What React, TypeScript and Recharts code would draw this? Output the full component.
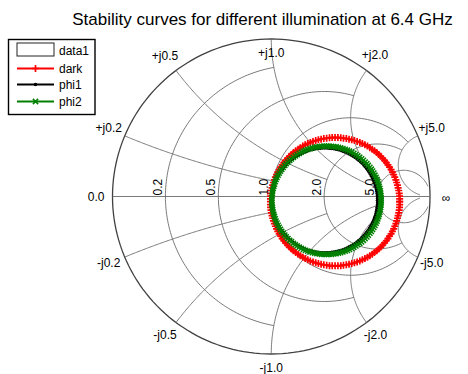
import React from "react";
import { Line, LineChart, XAxis, YAxis } from "recharts";

type Pt = { x: number; y: number };

// Smith chart grid: circle/arc values and how far each one is drawn
const gridValues = [0.2, 0.5, 1.0, 2.0, 5.0];
const gridLimits = [1.0, 2.0, 5.0, 5.0, 30];
const resistanceLabels = ["0.2", "0.5", "1.0", "2.0", "5.0"];
const reactanceLabels = ["+j0.2", "+j0.5", "+j1.0", "+j2.0", "+j5.0", "-j0.2", "-j0.5", "-j1.0", "-j2.0", "-j5.0"];

const seriesNames = ["dark", "phi1", "phi2"];

const dark: [number, number][] = [
  [0.809, -0.033], [0.809, -0.015], [0.808, 0.003], [0.806, 0.02], [0.803, 0.038], [0.799, 0.055], [0.795, 0.072], [0.79, 0.089], [0.785, 0.106], [0.778, 0.123], [0.771, 0.139], [0.763, 0.155], [0.755, 0.171], [0.745, 0.186], [0.735, 0.201], [0.725, 0.215], [0.714, 0.229], [0.702, 0.242], [0.69, 0.255], [0.677, 0.267], [0.664, 0.279], [0.65, 0.29], [0.636, 0.3], [0.621, 0.31], [0.606, 0.32], [0.59, 0.328], [0.574, 0.336], [0.558, 0.343], [0.541, 0.35], [0.524, 0.355], [0.507, 0.36], [0.49, 0.364], [0.473, 0.368], [0.455, 0.37], [0.438, 0.373], [0.42, 0.374], [0.402, 0.374],
  [0.384, 0.374], [0.367, 0.373], [0.349, 0.37], [0.331, 0.368], [0.314, 0.364], [0.297, 0.36], [0.28, 0.355], [0.263, 0.35], [0.246, 0.343], [0.23, 0.336], [0.214, 0.328], [0.199, 0.32], [0.183, 0.31], [0.169, 0.3], [0.154, 0.29], [0.14, 0.279], [0.127, 0.267], [0.114, 0.255], [0.102, 0.242], [0.09, 0.229], [0.079, 0.215], [0.069, 0.201], [0.059, 0.186], [0.05, 0.171], [0.041, 0.155], [0.033, 0.139], [0.026, 0.123], [0.02, 0.106], [0.014, 0.089], [0.009, 0.072], [0.005, 0.055], [0.001, 0.038], [-0.002, 0.02], [-0.004, 0.003], [-0.005, -0.015], [-0.005, -0.033],
  [-0.005, -0.051], [-0.004, -0.069], [-0.002, -0.086], [0.001, -0.104], [0.005, -0.121], [0.009, -0.138], [0.014, -0.155], [0.02, -0.172], [0.026, -0.189], [0.033, -0.205], [0.041, -0.221], [0.05, -0.237], [0.059, -0.252], [0.069, -0.267], [0.079, -0.281], [0.09, -0.295], [0.102, -0.308], [0.114, -0.321], [0.127, -0.333], [0.14, -0.345], [0.154, -0.356], [0.169, -0.366], [0.183, -0.376], [0.199, -0.386], [0.214, -0.394], [0.23, -0.402], [0.246, -0.409], [0.263, -0.416], [0.28, -0.421], [0.297, -0.426], [0.314, -0.43], [0.331, -0.434], [0.349, -0.436], [0.367, -0.439], [0.384, -0.44], [0.402, -0.44],
  [0.42, -0.44], [0.438, -0.439], [0.455, -0.436], [0.473, -0.434], [0.49, -0.43], [0.507, -0.426], [0.524, -0.421], [0.541, -0.416], [0.558, -0.409], [0.574, -0.402], [0.59, -0.394], [0.606, -0.386], [0.621, -0.376], [0.636, -0.366], [0.65, -0.356], [0.664, -0.345], [0.677, -0.333], [0.69, -0.321], [0.702, -0.308], [0.714, -0.295], [0.725, -0.281], [0.735, -0.267], [0.745, -0.252], [0.755, -0.237], [0.763, -0.221], [0.771, -0.205], [0.778, -0.189], [0.785, -0.172], [0.79, -0.155], [0.795, -0.138], [0.799, -0.121], [0.803, -0.104], [0.806, -0.086], [0.808, -0.069], [0.809, -0.051], [0.809, -0.033],
];

const phi1: [number, number][] = [
  [0.67, -0.025], [0.67, -0.011], [0.669, 0.004], [0.667, 0.019], [0.665, 0.033], [0.662, 0.047], [0.659, 0.061], [0.655, 0.075], [0.65, 0.089], [0.645, 0.102], [0.639, 0.116], [0.632, 0.129], [0.625, 0.142], [0.618, 0.154], [0.61, 0.166], [0.601, 0.178], [0.592, 0.189], [0.583, 0.2], [0.573, 0.211], [0.562, 0.221], [0.551, 0.23], [0.54, 0.239], [0.528, 0.248], [0.516, 0.256], [0.504, 0.263], [0.491, 0.27], [0.478, 0.277], [0.464, 0.283], [0.451, 0.288], [0.437, 0.293], [0.423, 0.297], [0.409, 0.3], [0.395, 0.303], [0.381, 0.305], [0.366, 0.307], [0.352, 0.308], [0.337, 0.308],
  [0.322, 0.308], [0.308, 0.307], [0.294, 0.305], [0.279, 0.303], [0.265, 0.3], [0.251, 0.297], [0.237, 0.293], [0.223, 0.288], [0.21, 0.283], [0.196, 0.277], [0.183, 0.27], [0.17, 0.263], [0.158, 0.256], [0.146, 0.248], [0.134, 0.239], [0.123, 0.23], [0.112, 0.221], [0.101, 0.211], [0.092, 0.2], [0.082, 0.189], [0.073, 0.178], [0.064, 0.166], [0.056, 0.154], [0.049, 0.142], [0.042, 0.129], [0.035, 0.116], [0.029, 0.102], [0.024, 0.089], [0.019, 0.075], [0.015, 0.061], [0.012, 0.047], [0.009, 0.033], [0.007, 0.019], [0.005, 0.004], [0.004, -0.011], [0.004, -0.025],
  [0.004, -0.04], [0.005, -0.054], [0.007, -0.069], [0.009, -0.083], [0.012, -0.097], [0.015, -0.111], [0.019, -0.125], [0.024, -0.139], [0.029, -0.152], [0.035, -0.166], [0.042, -0.179], [0.049, -0.191], [0.056, -0.204], [0.064, -0.216], [0.073, -0.228], [0.082, -0.239], [0.092, -0.25], [0.101, -0.261], [0.112, -0.271], [0.123, -0.28], [0.134, -0.289], [0.146, -0.298], [0.158, -0.306], [0.17, -0.313], [0.183, -0.32], [0.196, -0.327], [0.21, -0.333], [0.223, -0.338], [0.237, -0.343], [0.251, -0.347], [0.265, -0.35], [0.279, -0.353], [0.294, -0.355], [0.308, -0.357], [0.322, -0.358], [0.337, -0.358],
  [0.352, -0.358], [0.366, -0.357], [0.381, -0.355], [0.395, -0.353], [0.409, -0.35], [0.423, -0.347], [0.437, -0.343], [0.451, -0.338], [0.464, -0.333], [0.478, -0.327], [0.491, -0.32], [0.504, -0.313], [0.516, -0.306], [0.528, -0.298], [0.54, -0.289], [0.551, -0.28], [0.562, -0.271], [0.573, -0.261], [0.583, -0.25], [0.592, -0.239], [0.601, -0.228], [0.61, -0.216], [0.618, -0.204], [0.625, -0.191], [0.632, -0.179], [0.639, -0.166], [0.645, -0.152], [0.65, -0.139], [0.655, -0.125], [0.659, -0.111], [0.662, -0.097], [0.665, -0.083], [0.667, -0.069], [0.669, -0.054], [0.67, -0.04], [0.67, -0.025],
];

const phi2: [number, number][] = [
  [0.692, -0.024], [0.692, -0.009], [0.691, 0.006], [0.689, 0.021], [0.687, 0.036], [0.684, 0.051], [0.68, 0.065], [0.676, 0.079], [0.671, 0.094], [0.666, 0.108], [0.66, 0.121], [0.653, 0.135], [0.646, 0.148], [0.638, 0.161], [0.63, 0.173], [0.621, 0.185], [0.611, 0.197], [0.602, 0.208], [0.591, 0.219], [0.58, 0.23], [0.569, 0.239], [0.557, 0.249], [0.545, 0.258], [0.533, 0.266], [0.52, 0.274], [0.507, 0.281], [0.493, 0.288], [0.48, 0.294], [0.466, 0.299], [0.451, 0.304], [0.437, 0.308], [0.423, 0.312], [0.408, 0.315], [0.393, 0.317], [0.378, 0.319], [0.363, 0.32], [0.348, 0.32],
  [0.333, 0.32], [0.318, 0.319], [0.303, 0.317], [0.288, 0.315], [0.274, 0.312], [0.259, 0.308], [0.245, 0.304], [0.23, 0.299], [0.216, 0.294], [0.203, 0.288], [0.189, 0.281], [0.176, 0.274], [0.163, 0.266], [0.151, 0.258], [0.139, 0.249], [0.127, 0.239], [0.116, 0.23], [0.105, 0.219], [0.094, 0.208], [0.085, 0.197], [0.075, 0.185], [0.066, 0.173], [0.058, 0.161], [0.05, 0.148], [0.043, 0.135], [0.036, 0.121], [0.03, 0.108], [0.025, 0.094], [0.02, 0.079], [0.016, 0.065], [0.012, 0.051], [0.009, 0.036], [0.007, 0.021], [0.005, 0.006], [0.004, -0.009], [0.004, -0.024],
  [0.004, -0.039], [0.005, -0.054], [0.007, -0.069], [0.009, -0.084], [0.012, -0.099], [0.016, -0.113], [0.02, -0.127], [0.025, -0.142], [0.03, -0.156], [0.036, -0.169], [0.043, -0.183], [0.05, -0.196], [0.058, -0.209], [0.066, -0.221], [0.075, -0.233], [0.085, -0.245], [0.094, -0.256], [0.105, -0.267], [0.116, -0.278], [0.127, -0.287], [0.139, -0.297], [0.151, -0.306], [0.163, -0.314], [0.176, -0.322], [0.189, -0.329], [0.203, -0.336], [0.216, -0.342], [0.23, -0.347], [0.245, -0.352], [0.259, -0.356], [0.274, -0.36], [0.288, -0.363], [0.303, -0.365], [0.318, -0.367], [0.333, -0.368], [0.348, -0.368],
  [0.363, -0.368], [0.378, -0.367], [0.393, -0.365], [0.408, -0.363], [0.423, -0.36], [0.437, -0.356], [0.451, -0.352], [0.466, -0.347], [0.48, -0.342], [0.493, -0.336], [0.507, -0.329], [0.52, -0.322], [0.533, -0.314], [0.545, -0.306], [0.557, -0.297], [0.569, -0.288], [0.58, -0.278], [0.591, -0.267], [0.602, -0.256], [0.611, -0.245], [0.621, -0.233], [0.63, -0.221], [0.638, -0.209], [0.646, -0.196], [0.653, -0.183], [0.66, -0.169], [0.666, -0.156], [0.671, -0.142], [0.676, -0.127], [0.68, -0.113], [0.684, -0.099], [0.687, -0.084], [0.689, -0.069], [0.691, -0.054], [0.692, -0.039], [0.692, -0.024],
];

const FONT = '"Liberation Sans", Arial, Helvetica, sans-serif';
const GRID = "#6b6b6b";
const RED = "#ff0000";
const GREEN = "#008000";

// pixel nudges for the reactance labels around the rim (same order as reactanceLabels)
const reactanceOffsets = [
  [-16, -8], [-11, -15], [0, 13.5], [8.5, -15.5], [14, -7.5],
  [-16, 6], [-11, 12.5], [0, 14], [9, 12.5], [14, 6],
];

const toPts = (arr: [number, number][]): Pt[] => arr.map(([x, y]) => ({ x, y }));

// z = r + jx  ->  reflection coefficient
const gamma = (r: number, x: number): Pt => {
  const d = (r + 1) * (r + 1) + x * x;
  return { x: (r * r - 1 + x * x) / d, y: (2 * x) / d };
};

const STEPS = 120;

function resistanceCircle(r: number, lim: number): Pt[] {
  const c = r / (1 + r);
  const R = 1 / (1 + r);
  const e = gamma(r, lim);
  const a0 = Math.atan2(e.y, e.x - c);
  const a1 = 2 * Math.PI - a0;
  const out: Pt[] = [];
  for (let i = 0; i <= STEPS; i++) {
    const a = a0 + ((a1 - a0) * i) / STEPS;
    out.push({ x: c + R * Math.cos(a), y: R * Math.sin(a) });
  }
  return out;
}

function reactanceArc(x: number, lim: number, sign: number): Pt[] {
  const R = 1 / x;
  const s = gamma(0, x);
  const e = gamma(lim, x);
  const a0 = Math.atan2(s.y - R, s.x - 1);
  let a1 = Math.atan2(e.y - R, e.x - 1);
  while (a1 < a0) a1 += 2 * Math.PI;
  const out: Pt[] = [];
  for (let i = 0; i <= STEPS; i++) {
    const a = a0 + ((a1 - a0) * i) / STEPS;
    out.push({ x: 1 + R * Math.cos(a), y: sign * (R + R * Math.sin(a)) });
  }
  return out;
}

const outerCircle: Pt[] = Array.from({ length: 181 }, (_, i) => {
  const a = (i / 180) * 2 * Math.PI;
  return { x: Math.cos(a), y: Math.sin(a) };
});
const realAxis: Pt[] = [{ x: -1, y: 0 }, { x: 1, y: 0 }];

const gridCurves: Pt[][] = [realAxis];
gridValues.forEach((v, i) => {
  gridCurves.push(resistanceCircle(v, gridLimits[i]));
  gridCurves.push(reactanceArc(v, gridLimits[i], 1));
  gridCurves.push(reactanceArc(v, gridLimits[i], -1));
});

type LabelPt = Pt & { text: string; dx: number; dy: number; anchor: string; rot?: boolean };

const labelPts: LabelPt[] = [
  ...reactanceLabels.map((text, i) => {
    const v = gridValues[i % 5] * (i < 5 ? 1 : -1);
    const g = gamma(0, v);
    return { ...g, text, dx: reactanceOffsets[i][0], dy: reactanceOffsets[i][1], anchor: "middle" };
  }),
  ...resistanceLabels.map((text, i) => {
    const g = gamma(gridValues[i], 0);
    return { ...g, text, dx: -3.5, dy: -1, anchor: "start", rot: true };
  }),
  { x: -1, y: 0, text: "0.0", dx: -8, dy: 0, anchor: "end" },
  { x: 1, y: 0, text: "\u221e", dx: 16, dy: 1.5, anchor: "middle" },
];

const renderLabel = (p: any) => {
  const { cx, cy, payload, index } = p;
  if (payload.rot) {
    return (
      <text
        key={`lab-${index}`}
        transform={`translate(${cx + payload.dx},${cy + payload.dy}) rotate(-90)`}
        fontSize={12}
        fontFamily={FONT}
        fill="#000"
      >
        {payload.text}
      </text>
    );
  }
  return (
    <text
      key={`lab-${index}`}
      x={cx + payload.dx}
      y={cy + payload.dy}
      textAnchor={payload.anchor}
      dominantBaseline="central"
      fontSize={12}
      fontFamily={FONT}
      fill="#000"
    >
      {payload.text}
    </text>
  );
};

const plusDot = (p: any) => (
  <path
    key={`pl-${p.index}`}
    d={`M${p.cx - 3.5},${p.cy}h7M${p.cx},${p.cy - 3.5}v7`}
    stroke={RED}
    strokeWidth={1.7}
    fill="none"
  />
);
const pointDot = (p: any) => <circle key={`pt-${p.index}`} cx={p.cx} cy={p.cy} r={1.8} fill="#000" />;
const crossDot = (p: any) => (
  <path
    key={`cr-${p.index}`}
    d={`M${p.cx - 2.6},${p.cy - 2.6}l5.2,5.2M${p.cx - 2.6},${p.cy + 2.6}l5.2,-5.2`}
    stroke={GREEN}
    strokeWidth={1.5}
    fill="none"
  />
);

const series = [
  { name: seriesNames[0], data: toPts(dark), color: RED, dot: plusDot },
  { name: seriesNames[1], data: toPts(phi1), color: "#000", dot: pointDot },
  { name: seriesNames[2], data: toPts(phi2), color: GREEN, dot: crossDot },
];

function LegendBox() {
  const rows = [68.5, 84.5, 101.5];
  return (
    <g fontFamily={FONT} fontSize={12}>
      <rect x={8.5} y={39.5} width={86.5} height={75} fill="#fff" stroke="#000" strokeWidth={1.4} />
      <rect x={17} y={43} width={37} height={13} fill="#fff" stroke="#222" strokeWidth={1} />
      <text x={59} y={54.5}>data1</text>
      {series.map((s, i) => (
        <g key={s.name}>
          <line x1={17} x2={54} y1={rows[i]} y2={rows[i]} stroke={s.color} strokeWidth={1.8} />
          {s.dot({ cx: 35.5, cy: rows[i], index: i })}
          <text x={59} y={rows[i] + 4}>{s.name}</text>
        </g>
      ))}
    </g>
  );
}

export default function App() {
  return (
    <div style={{ position: "absolute", left: 0, top: 0, width: 468, height: 374, background: "#fff" }}>
      <LineChart
        width={468}
        height={374}
        margin={{ top: 39, right: 38, bottom: 20, left: 112.5 }}
        style={{ position: "absolute", left: 0, top: 0 }}
      >
        <XAxis type="number" dataKey="x" domain={[-1, 1]} scale="linear" hide />
        <YAxis type="number" domain={[-1, 1]} scale="linear" hide />
        <Line
          data={outerCircle}
          dataKey="y"
          stroke="#404040"
          strokeWidth={1.3}
          dot={false}
          activeDot={false}
          legendType="none"
          isAnimationActive={false}
        />
        {gridCurves.map((c, i) => (
          <Line
            key={`g${i}`}
            data={c}
            dataKey="y"
            stroke={GRID}
            strokeWidth={0.9}
            dot={false}
            activeDot={false}
            legendType="none"
            isAnimationActive={false}
          />
        ))}
        <Line
          data={labelPts}
          dataKey="y"
          stroke="none"
          dot={renderLabel}
          activeDot={false}
          legendType="none"
          isAnimationActive={false}
        />
        {series.map((s) => (
          <Line
            key={s.name}
            name={s.name}
            data={s.data}
            dataKey="y"
            stroke={s.color}
            strokeWidth={2}
            dot={s.dot}
            activeDot={false}
            isAnimationActive={false}
          />
        ))}
      </LineChart>
      <svg width={468} height={374} style={{ position: "absolute", left: 0, top: 0, pointerEvents: "none" }}>
        <text x={262.5} y={25} textAnchor="middle" fontFamily={FONT} fontSize={17}>
          Stability curves for different illumination at 6.4 GHz
        </text>
        <LegendBox />
      </svg>
    </div>
  );
}
